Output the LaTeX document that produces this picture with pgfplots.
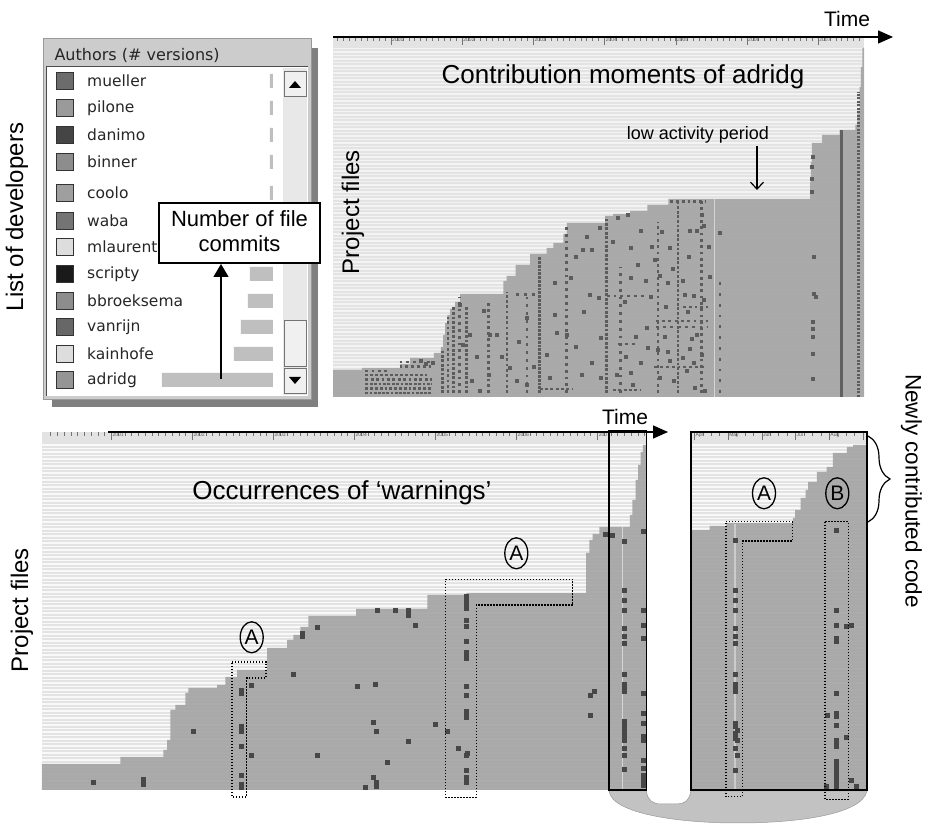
\documentclass[border=0pt]{standalone}
\usepackage{pgfplots}
\pgfplotsset{compat=1.18}
\usepackage{fontspec}
\setmainfont{Liberation Sans}
\newfontfamily\dejavu{DejaVu Sans}
\usetikzlibrary{arrows.meta,shapes.geometric,decorations.pathreplacing}

\newcommand\fs[1]{\fontsize{#1}{#1}\selectfont}

\pgfplotsset{
  evo/.style={
    scale only axis, anchor=south west,
    axis line style={draw=none},
    axis background/.style={fill=black!11},
    xtick pos=right, xticklabel pos=right, tick align=inside,
    major tick length=8pt, minor tick length=4pt,
    tick style={black!55, line width=0.5pt},
    xticklabel style={anchor=north west, font=\fs{5}, text=black!65, inner sep=1pt},
    ymin=0,
    ymajorgrids, yticklabels={}, ytick style={draw=none},
  },
  area/.style={const plot, fill=black!36, fill opacity=0.9, draw=none},
  col/.style={draw=black!64, line width=2.8pt, dash pattern=#1},
  dots/.style={only marks, mark=square*, mark size=1.5pt, black!64},
  bigdots/.style={only marks, mark=square*, mark size=2pt, black!72},
}

\begin{document}
\begin{tikzpicture}

% ---- window chrome of the author list
\begin{scope}[shift={(0pt,824pt)}, x=1pt, y=-1pt]
  \fill[black!50] (52,48) rectangle (318,407);
  \filldraw[fill=black!20, draw=black!40, line width=0.6pt] (43,38) rectangle (311,399);
  \node[anchor=west, font=\dejavu\fs{16}, text=black!85] at (51,55) {Authors (\# versions)};
  \fill[white] (46,67) rectangle (308,396);
  \draw[black!70, line width=1pt] (46,396) -- (46,67) -- (308,67);
  \fill[black!9] (283,68) rectangle (307,395);
  \filldraw[fill=black!6, draw=black!55, line width=0.6pt] (284,71) rectangle (306,96);
  \fill (289,88) -- (301,88) -- (295,81) -- cycle;
  \filldraw[fill=black!6, draw=black!55, line width=0.6pt] (284,320) rectangle (306,366);
  \filldraw[fill=black!6, draw=black!55, line width=0.6pt] (284,368) rectangle (306,393);
  \fill (289,377) -- (301,377) -- (295,384) -- cycle;
\end{scope}

% ---- list of developers with number of file commits
\begin{axis}[at={(82pt,427pt)}, anchor=south west, scale only axis,
  width=191pt, height=332pt, xmin=0, xmax=191, x dir=reverse,
  ymin=65, ymax=397, y dir=reverse, clip=false,
  axis line style={draw=none}, xtick=\empty, major tick length=0pt, tick style={draw=none},
  ytick={81,108,135,162,193,221,247,274,301,327,354,380},
  yticklabels={mueller,pilone,danimo,binner,coolo,waba,mlaurent,scripty,bbroeksema,vanrijn,kainhofe,adridg},
  yticklabel style={anchor=west, font=\dejavu\fs{15.5}, text=black!85, inner sep=0pt, xshift=5pt},
  colormap/blackwhite, point meta min=0, point meta max=1]
\addplot[xbar, bar width=14pt, fill=black!25, draw=none] coordinates {
  (3,81) (3,108) (3,135) (3,162) (3,193) (8,221) (10,247)
  (23,274) (25,301) (32,327) (39,354) (111,380)};
\addplot[scatter, only marks, mark=square*, mark size=8.5pt, point meta=explicit,
  scatter/use mapped color={draw=black!80, fill=mapped color}] coordinates {
  (208.5,81) [0.42] (208.5,108) [0.6] (208.5,135) [0.27] (208.5,162) [0.55]
  (208.5,193) [0.62] (208.5,221) [0.45] (208.5,247) [0.86] (208.5,274) [0.1]
  (208.5,301) [0.55] (208.5,327) [0.4] (208.5,354) [0.86] (208.5,380) [0.58]};
\end{axis}

% ---- contribution moments of adridg
\begin{axis}[evo, at={(333pt,427pt)}, width=531pt, height=360pt,
  xmin=2000.185, xmax=2007.643, ymax=360,
  xtick={2001,2002,2003,2004,2005,2006,2007},
  xticklabels={2001,2002,2003,2004,2005,2006,2007},
  minor xtick={2000.25,2000.3333,...,2007.6},
  ytick={2,5.5,...,347},
  grid style={white, line width=1.1pt, opacity=0.6}]
\addplot[area] coordinates {
  (2000.185,27) (2000.59,29) (2001.126,33) (2001.267,39) (2001.60,44) (2001.70,50)
  (2001.73,62) (2001.76,74) (2001.79,82) (2001.83,88) (2001.90,95) (2001.97,103)
  (2002.577,116) (2002.625,121) (2002.75,132) (2002.952,143) (2003.187,149)
  (2003.28,154) (2003.42,163) (2003.468,174) (2004.006,181) (2004.12,183)
  (2004.357,186) (2004.60,192) (2004.895,198) (2006.885,215) (2006.895,235)
  (2006.91,254) (2007.053,262) (2007.30,267) (2007.52,272) (2007.55,285)
  (2007.58,310) (2007.60,330) (2007.62,349) (2007.643,349)} \closedcycle;
\addplot[white, opacity=0.5, line width=1pt] coordinates {(2005.55,0) (2005.55,198)};
% dense rows of contributions
\addplot[col={on 2.8pt off 1.4pt}] coordinates {(2000.64,4) (2001.58,4)};
\addplot[col={on 2.8pt off 2pt}] coordinates {(2000.64,8.5) (2001.58,8.5)};
\addplot[col={on 2.8pt off 1.6pt}] coordinates {(2000.64,13) (2001.58,13)};
\addplot[col={on 2.8pt off 2.6pt}] coordinates {(2000.64,17.5) (2001.58,17.5)};
\addplot[col={on 2.8pt off 2.2pt}] coordinates {(2000.64,22) (2001.50,22)};
\addplot[col={on 2.8pt off 3.5pt}] coordinates {(2000.64,26) (2000.95,26)};
\addplot[col={on 2.8pt off 3pt}] coordinates {(2001.12,30.5) (2001.58,30.5)};
\addplot[col={on 2.8pt off 4pt}] coordinates {(2001.12,35) (2001.55,35)};
\addplot[col={on 2.8pt off 4pt}] coordinates {(2004.03,101) (2004.59,101)};
\addplot[col={on 2.8pt off 3.5pt}] coordinates {(2004.72,76) (2005.45,76)};
\addplot[col={on 2.8pt off 4.5pt}] coordinates {(2004.72,70) (2005.45,70)};
\addplot[col={on 2.8pt off 4pt}] coordinates {(2004.19,53) (2004.46,53)};
\addplot[col={on 2.8pt off 2.5pt}] coordinates {(2003.09,8) (2003.55,8)};
\addplot[col={on 2.8pt off 2.5pt}] coordinates {(2004.12,7) (2004.50,7)};
\addplot[col={on 2.8pt off 3pt}] coordinates {(2004.92,195.5) (2005.41,195.5)};
\addplot[col={on 2.8pt off 5pt}] coordinates {(2002.76,102.7) (2003.04,102.7)};
\addplot[col={on 2.8pt off 3pt}] coordinates {(2005.10,90) (2005.45,90)};
\addplot[col={on 2.8pt off 3pt}] coordinates {(2004.70,30) (2005.40,30)};
% columns of contributions
\addplot[col={on 2.8pt off 1.6pt}] coordinates {(2001.72,4) (2001.72,48)};
\addplot[col={on 2.8pt off 2.5pt}] coordinates {(2001.80,4) (2001.80,80)};
\addplot[col={on 2.8pt off 1.8pt}] coordinates {(2001.88,4) (2001.88,90)};
\addplot[col={on 2.8pt off 4pt}] coordinates {(2001.96,4) (2001.96,100)};
\addplot[col={on 2.8pt off 1.8pt}] coordinates {(2002.06,4) (2002.06,90)};
\addplot[col={on 2.8pt off 3pt}] coordinates {(2002.37,4) (2002.37,95)};
\addplot[col={on 2.8pt off 2.5pt}] coordinates {(2002.63,4) (2002.63,105)};
\addplot[col={on 2.8pt off 5pt}] coordinates {(2002.91,4) (2002.91,100)};
\addplot[col={on 2.8pt off 1pt}] coordinates {(2003.09,4) (2003.09,140)};
\addplot[col={on 2.8pt off 4pt}] coordinates {(2003.47,4) (2003.47,170)};
\addplot[col={on 2.8pt off 1.6pt}] coordinates {(2004.03,4) (2004.03,180)};
\addplot[col={on 2.8pt off 5pt}] coordinates {(2004.22,4) (2004.22,130)};
\addplot[col={on 2.8pt off 3.5pt}] coordinates {(2004.75,4) (2004.75,175)};
\addplot[col={on 2.8pt off 1.8pt}] coordinates {(2005.03,4) (2005.03,197)};
\addplot[col={on 2.8pt off 3.5pt}] coordinates {(2005.36,4) (2005.36,197)};
\addplot[col={on 2.8pt off 8pt}] coordinates {(2005.62,4) (2005.62,120)};
\addplot[draw=black!62, line width=2.6pt] coordinates {(2007.33,0) (2007.33,267)};
\addplot[col={on 2pt off 1.5pt}] coordinates {(2007.57,0) (2007.57,305)};
\addplot[dots] coordinates {
  (2003.82,147.7) (2003.69,147.7) (2003.93,169.3) (2004.19,179.3) (2004.33,182.7)
  (2004.50,166) (2004.36,149.3) (2004.47,132.7) (2004.71,137.7) (2004.92,149.3)
  (2004.57,116) (2004.36,119.3) (2004.78,121) (2004.89,114.3) (2005.10,116)
  (2005.25,101) (2005.39,97.7) (2005.13,102.7) (2003.79,102.7) (2003.91,99.3)
  (2004.59,69.3) (2003.94,59.3) (2003.68,22.7) (2003.82,34.3) (2003.94,19.3)
  (2003.30,82.7) (2003.33,64.3) (2003.47,62.7) (2003.19,42.7) (2003.23,19.3)
  (2002.90,79.3) (2003.30,114.3) (2003.52,119.3) (2002.39,62.7) (2002.48,62.7)
  (2002.30,86) (2001.97,92.7) (2002.0,52.7) (2002.11,62.7) (2001.59,34.3)
  (2001.41,36) (2001.48,33.3) (2002.13,16) (2002.25,6) (2002.37,22.7)
  (2002.67,29.3) (2002.90,12.7) (2002.76,16) (2005.20,166) (2005.29,166)
  (2005.39,171) (2005.36,182.7) (2005.62,164.3) (2004.50,34.3) (2004.61,49.3)
  (2004.75,47.7) (2004.92,36) (2005.10,39.3) (2005.25,34.3) (2005.36,42.7)
  (2004.78,19.3) (2004.97,16) (2005.15,26) (2005.27,9.3) (2005.40,6)
  (2004.17,22.7) (2004.36,24.3) (2004.40,12.7) (2005.16,85) (2005.22,58)
  (2004.86,90) (2004.95,128) (2005.18,140) (2005.46,150) (2005.47,120)
  (2002.55,40) (2002.80,55) (2003.00,30) (2003.60,140) (2003.75,160)
  (2004.12,155) (2004.28,95) (2004.44,60) (2004.65,100)
  (2004.84,60) (2004.88,45) (2005.20,48) (2005.30,62) (2004.66,150)
  (2004.80,165) (2004.30,40) (2003.60,50) (2003.70,85) (2002.20,40)
  (2006.92,240) (2006.915,230) (2006.91,218) (2006.905,205) (2006.93,140)
  (2006.93,103) (2006.96,100) (2006.92,75) (2006.92,68) (2006.92,60)
  (2006.92,43) (2006.92,18)};
\end{axis}

% ---- occurrences of 'warnings'
\begin{axis}[evo, at={(42pt,34pt)}, width=605pt, height=358pt,
  xmin=2000.144, xmax=2007.61, ymax=358,
  xtick={2001,2002,2003,2004,2005,2006,2007},
  xticklabels={2001,2002,2003,2004,2005,2006,2007},
  minor xtick={2000.25,2000.3333,...,2007.6},
  ytick={2,5.5,...,344},
  grid style={white, line width=1.2pt, opacity=0.8}]
\addplot[area] coordinates {
  (2000.144,26) (2001.111,33) (2001.642,40) (2001.687,50) (2001.728,80) (2001.79,85)
  (2001.914,97) (2001.951,102) (2002.305,105) (2002.407,113) (2002.552,120)
  (2002.922,142) (2003.169,150) (2003.247,155) (2003.333,163) (2003.432,174)
  (2004.021,181) (2004.90,195) (2005.38,197) (2006.86,237) (2006.90,250)
  (2006.94,256) (2007.021,263) (2007.40,275) (2007.43,290) (2007.47,310)
  (2007.50,325) (2007.53,338) (2007.56,345) (2007.61,345)} \closedcycle;
\addplot[white, opacity=0.5, line width=1.5pt] coordinates {(2007.31,0) (2007.31,263)};
\addplot[bigdots] coordinates {
  (2000.781,7.7) (2001.397,10.7) (2001.397,6) (2002.013,58.3) (2002.603,100)
  (2002.603,96.7) (2002.726,105) (2002.603,63.3) (2002.603,58.3) (2002.603,43.3)
  (2002.726,34.3) (2002.603,15) (2002.603,6) (2002.603,2.7) (2003.245,115.7)
  (2003.352,156.7) (2003.352,153.3) (2003.540,162.7) (2003.540,34.3) (2004.033,103.3)
  (2004.252,105.7) (2004.279,179.3) (2004.504,180) (2004.665,179.3) (2004.665,175)
  (2004.745,165) (2004.236,67.3) (2004.263,58.3) (2004.408,27.3) (2004.665,49)
  (2005.002,66) (2005.147,58.3) (2004.236,12.7) (2004.263,7.7) (2004.263,3.3)
  (2004.129,2.5)
  (2005.377,193.3) (2005.377,190) (2005.377,186.7) (2005.377,181.7) (2005.377,170)
  (2005.377,163.3) (2005.377,148.3) (2005.377,138) (2005.377,135) (2005.377,132)
  (2005.377,103.3) (2005.377,95) (2005.377,79) (2005.377,76) (2005.377,73)
  (2005.377,35) (2005.377,20) (2005.377,13) (2005.377,8)
  (2005.280,41.7) (2005.388,36.7) (2006.914,95) (2006.957,98.3) (2006.914,75)
  (2007.091,256) (2007.182,255)
  (2007.327,249) (2007.327,199.3) (2007.327,190) (2007.327,180) (2007.327,161.7)
  (2007.327,154) (2007.327,146.7) (2007.327,116) (2007.327,106) (2007.327,101.7)
  (2007.327,98.3) (2007.327,68.3) (2007.327,63.3) (2007.327,58.3) (2007.327,53.3)
  (2007.327,50) (2007.327,41.7) (2007.327,35) (2007.327,20.7)
  (2007.568,258.3) (2007.568,180) (2007.568,165) (2007.568,151.7) (2007.568,96.7)
  (2007.568,76.7) (2007.568,66.7) (2007.568,53.3) (2007.568,50) (2007.568,30)
  (2007.568,21.7) (2007.568,15) (2007.568,10) (2007.568,5)};
\end{axis}

% ---- zoom on 2007
\begin{axis}[evo, at={(691pt,34pt)}, width=176pt, height=358pt,
  xmin=3.90, xmax=9.12, ymax=358,
  xtick={4,5,6,7,8,9}, xticklabels={Apr,May,Jun,Jul,Aug,},
  minor x tick num=3,
  ytick={2,5.5,...,344},
  grid style={white, line width=1.2pt, opacity=0.8}]
\addplot[area] coordinates {
  (3.90,260) (4.45,264) (4.95,267) (6.93,272) (6.99,280) (7.15,292) (7.30,300)
  (7.37,308) (7.63,318) (7.92,323) (8.11,337) (8.52,343) (8.71,345) (9.12,345)} \closedcycle;
\addplot[white, opacity=0.4, line width=2pt] coordinates {(5.21,0) (5.21,266)};
\addplot[bigdots] coordinates {
  (5.21,250) (5.21,199.3) (5.21,190) (5.21,180) (5.21,161.7) (5.21,154) (5.21,146.7)
  (5.21,116) (5.21,106) (5.21,101.7) (5.21,98.3) (5.21,66.7) (5.21,63.3) (5.28,60)
  (5.21,56.7) (5.21,51.7) (5.28,49.3) (5.21,41.7) (5.28,35) (5.21,20)
  (8.22,260) (8.22,180) (8.22,165) (8.22,151.7) (8.22,148.3) (8.22,96.7) (8.22,76.7)
  (8.22,73.3) (8.22,65) (8.22,50) (8.22,46.7) (8.22,43.3) (8.22,28.3) (8.22,23.3)
  (8.22,18.3) (8.22,13.3) (8.22,8.3) (8.22,4)
  (8.50,163.3) (8.64,165) (7.95,75) (8.50,52.7) (8.64,10) (8.80,3.3) (7.90,3.3)};
\end{axis}

% ---- annotations
\begin{scope}[shift={(0pt,824pt)}, x=1pt, y=-1pt]
  % callout on the list
  \draw[line width=1.4pt, -{Triangle[length=13pt,width=15pt]}] (221,379) -- (221,264);
  \filldraw[fill=white, draw=black, line width=1.4pt] (159,203) rectangle (320,263);
  \node[font=\fs{22}, align=center, inner sep=0pt] at (239.5,231) {Number of file\\[3pt]commits};
  \node[rotate=90, font=\fs{24}] at (17,217) {List of developers};

  % top panel
  \draw[line width=1.5pt, -{Triangle[length=15pt,width=13pt]}] (333,37) -- (893,37);
  \node[font=\fs{21}] at (847,19) {Time};
  \node[font=\fs{26}] at (623,77) {Contribution moments of adridg};
  \node[font=\fs{18}] at (698,135) {low activity period};
  \draw[line width=1.2pt, -{Straight Barb[length=7pt,width=13pt]}] (757,146) -- (757,190);
  \node[rotate=90, font=\fs{24}] at (353,212) {Project files};

  % connector between the 2007 slice and its zoom
  \filldraw[fill=black!24, draw=black!40, line width=0.5pt]
    (609,791) .. controls (612,814) and (680,823) .. (737,823)
    .. controls (800,823) and (862,814) .. (867,791) -- (691,791)
    .. controls (689,801) and (684,804) .. (677,804) -- (661,804)
    .. controls (653,804) and (647,800) .. (646.5,791) -- cycle;

  % bottom panels
  \draw[line width=1.5pt, -{Triangle[length=15pt,width=13pt]}] (108,432) -- (668,432);
  \node[font=\fs{21}] at (625,417) {Time};
  \draw[line width=1.8pt] (609,431) rectangle (646.5,790);
  \draw[line width=1.8pt] (691,432) rectangle (867,790);
  \node[font=\fs{26}] at (342,493) {Occurrences of ‘warnings’};
  \node[rotate=90, font=\fs{24}] at (22,610) {Project files};
  \node[rotate=-90, font=\fs{22.5}] at (911.5,491) {Newly contributed code};
  \draw[line width=1.2pt, decorate, decoration={brace, amplitude=22pt}] (868,436) -- (868,522);

  % dotted selections
  \begin{scope}[line width=1.3pt, dash pattern=on 1.4pt off 1.6pt]
    \draw (232,662) -- (266,662) -- (266,678) -- (246.5,678) -- (246.5,797) -- (232,797) -- cycle;
    \draw (445.6,579.3) -- (572.7,579.3) -- (572.7,605) -- (476.4,605) -- (476.4,797.3) -- (445.6,797.3) -- cycle;
    \draw (726,521.7) -- (792.7,521.7) -- (792.7,541) -- (742.7,541) -- (742.7,796.7) -- (726,796.7) -- cycle;
    \draw (825,521.7) rectangle (848.3,799.3);
  \end{scope}
  \begin{scope}[every node/.style={draw, ellipse, line width=1.3pt, minimum width=23pt,
      minimum height=31pt, inner sep=0pt, font=\fs{21}}]
    \node at (251.7,637.3) {A};
    \node at (516.3,553.3) {A};
    \node at (764,493.3) {A};
    \node at (837.3,493.3) {B};
  \end{scope}
\end{scope}

\pgfresetboundingbox
\useasboundingbox (0pt,0pt) rectangle (929pt,824pt);
\end{tikzpicture}
\end{document}
